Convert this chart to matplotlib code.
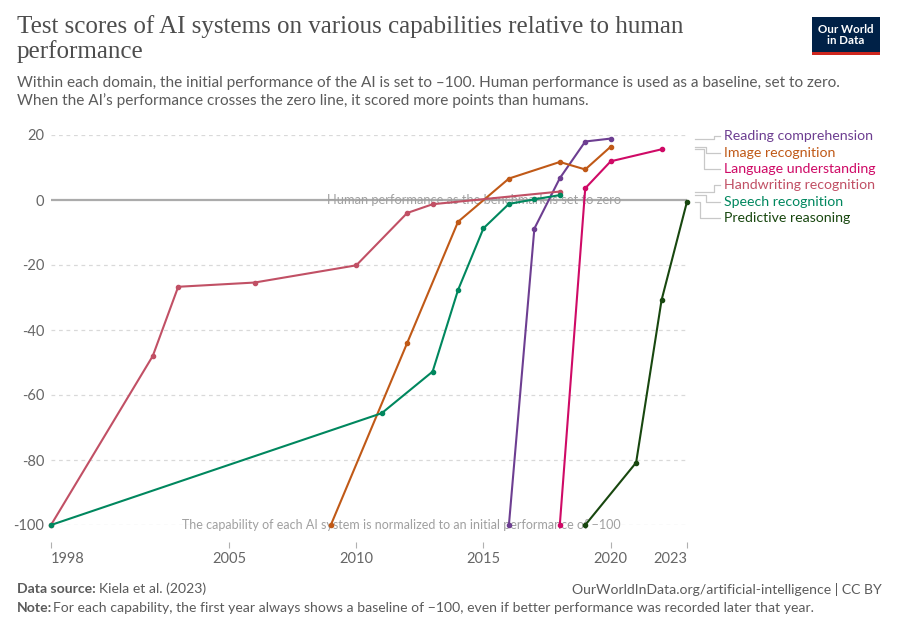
import matplotlib
matplotlib.use("Agg")
import matplotlib.pyplot as plt
from matplotlib.patches import Rectangle

# data (year, score relative to human performance)
reading_years = [2016, 2017, 2018, 2019, 2020]
reading = [-100, -8.8, 6.7, 18.0, 18.9]

image_years = [2009, 2012, 2014, 2016, 2018, 2019, 2020]
image = [-100, -44, -6.7, 6.6, 11.7, 9.4, 16.4]

language_years = [2018, 2019, 2020, 2022]
language = [-100, 3.6, 11.9, 15.6]

handwriting_years = [1998, 2002, 2003, 2006, 2010, 2012, 2013, 2018]
handwriting = [-100, -48, -26.7, -25.4, -20.1, -4.0, -1.3, 2.6]

speech_years = [1998, 2011, 2013, 2014, 2015, 2016, 2017, 2018]
speech = [-100, -65.6, -52.8, -27.7, -8.7, -1.2, 0.2, 1.5]

predictive_years = [2019, 2021, 2022, 2023]
predictive = [-100, -80.8, -30.8, -0.5]

names = ["Reading comprehension", "Image recognition", "Language understanding",
         "Handwriting recognition", "Speech recognition", "Predictive reasoning"]
colors = ["#6d3e91", "#c05917", "#cf0a66", "#c15065", "#00875e", "#18470f"]
series = [(reading_years, reading), (image_years, image), (language_years, language),
          (handwriting_years, handwriting), (speech_years, speech),
          (predictive_years, predictive)]

xticks = [1998, 2005, 2010, 2015, 2020, 2023]
yticks = [-100, -80, -60, -40, -20, 0, 20]

plt.rcParams['font.family'] = ['Lato', 'DejaVu Sans']
plt.rcParams['axes.unicode_minus'] = False

fig = plt.figure(figsize=(9, 6.34), dpi=100)
ax = fig.add_axes([51/900, 1-525/634, (687-51)/900, 390/634])
ax.set_xlim(1998, 2023)
ax.set_ylim(-100, 20)

# grid
for y in yticks:
    if y == 0:
        ax.axhline(0, color="#ababab", lw=1.6, zorder=1)
    else:
        ax.axhline(y, color="#d9d9d9", lw=0.9, ls=(0, (3, 3)), zorder=0)

ax.text(2020.4, 0, "Human performance as the benchmark is set to zero",
        fontsize=9.3, color="#a0a0a0", ha="right", va="center", zorder=2)
ax.text(2020.4, -100, "The capability of each AI system is normalized to an initial performance of \u2212100",
        fontsize=9.0, color="#a0a0a0", ha="right", va="center", zorder=2)

for (xs, ys), c in zip(series, colors):
    ax.plot(xs, ys, color=c, lw=1.5, marker="o", ms=3, clip_on=False, zorder=3)

# labels with connector lines on the right
label_y = [19.7, 14.5, 9.5, 4.6, -0.6, -5.5]
elbow_x = [2024.05, 2023.75, 2023.65, 2024.05, 2023.75, 2023.5]
for (xs, ys), c, name, ly, ex in zip(series, colors, names, label_y, elbow_x):
    end = ys[-1]
    ax.plot([2023.3, ex, ex, 2024.3], [end, end, ly, ly], color="#c8c8c8",
            lw=0.9, clip_on=False, zorder=1)
    ax.text(2024.45, ly, name, color=c, fontsize=10.2, va="center", ha="left")

for s in ax.spines.values():
    s.set_visible(False)
ax.spines['bottom'].set_position(('outward', 12.5))
ax.set_xticks(xticks)
ax.set_xticklabels([str(x) for x in xticks])
for lab, x in zip(ax.get_xticklabels(), xticks):
    if x == 1998:
        lab.set_ha("left")
    elif x == 2023:
        lab.set_ha("right")
ax.set_yticks(yticks)
ax.tick_params(axis="x", length=4, width=0.8, color="#b0b0b0", labelsize=10.5,
               labelcolor="#666666", pad=3)
ax.tick_params(axis="y", length=0, labelsize=10.5, labelcolor="#666666", pad=5)

# header
fig.text(17/900, 1-15/634, "Test scores of AI systems on various capabilities relative to human\nperformance",
         family="Liberation Serif", fontsize=18, color="#4d4d4d", va="top", ha="left",
         linespacing=1.1)
fig.text(17/900, 1-76/634,
         "Within each domain, the initial performance of the AI is set to \u2013100. Human performance is used as a baseline, set to zero.\n"
         "When the AI\u2019s performance crosses the zero line, it scored more points than humans.",
         fontsize=11.1, color="#5b5b5b", va="top", ha="left", linespacing=1.25)

# logo
fig.patches.append(Rectangle((812/900, 1-55/634), 68/900, 38/634, transform=fig.transFigure,
                             facecolor="#002147", edgecolor="none"))
fig.patches.append(Rectangle((812/900, 1-55/634), 68/900, 3/634, transform=fig.transFigure,
                             facecolor="#ce261e", edgecolor="none"))
fig.text(846/900, 1-35/634, "Our World\nin Data", color="white", fontsize=8.3, ha="center",
         va="center", fontweight="bold", linespacing=1.05)

# footer
fig.text(17/900, 1-589/634, "Data source:", fontsize=10.1, color="#5b5b5b", fontweight="bold", va="center")
fig.text(99/900, 1-589/634, "Kiela et al. (2023)", fontsize=10.1, color="#5b5b5b", va="center")
fig.text(17/900, 1-608/634, "Note:", fontsize=10.1, color="#5b5b5b", fontweight="bold", va="center")
fig.text(53/900, 1-608/634,
         "For each capability, the first year always shows a baseline of \u2212100, even if better performance was recorded later that year.",
         fontsize=10.1, color="#5b5b5b", va="center")
fig.text(882/900, 1-589/634, "OurWorldInData.org/artificial-intelligence | CC BY", fontsize=10.1,
         color="#5b5b5b", va="center", ha="right")

fig.savefig("out.png", dpi=100)
